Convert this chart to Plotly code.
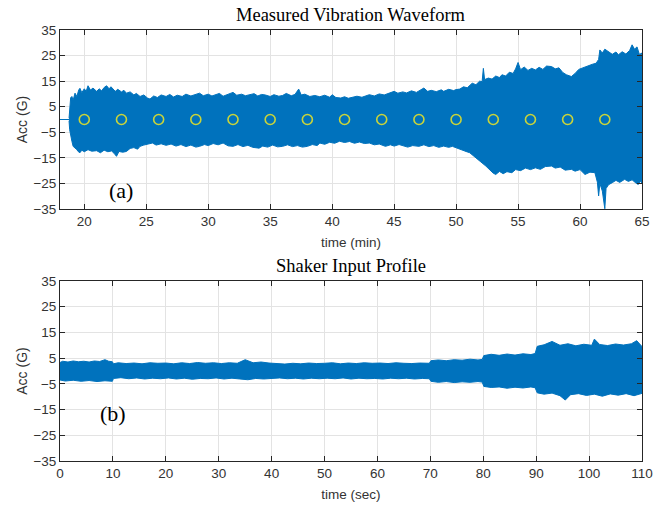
import plotly.graph_objects as go
from plotly.subplots import make_subplots

# ---------------- data ----------------
# (a) Measured vibration waveform: upper / lower envelope of the signal (G) vs time (min)
a_up_t = [18.77, 18.82, 18.9, 19.0, 19.1, 19.25, 19.4, 19.55, 19.65, 19.8, 20.0, 20.15, 20.3, 20.5, 20.7,
          21.0, 21.2, 21.4, 21.6, 21.8, 22.0, 22.15, 22.3, 22.5, 22.7, 23.0, 23.2, 23.4, 23.7, 24.0,
          24.2, 24.5, 24.8, 25.1, 25.3, 25.6, 25.9, 26.2, 26.6, 26.9, 27.2, 27.5, 27.9, 28.2, 28.6,
          29.0, 29.3, 29.6, 30.0, 30.3, 30.6, 30.9, 31.2, 31.6, 32.0, 32.3, 32.7, 33.0, 33.3, 33.7,
          34.0, 34.3, 34.6, 35.0, 35.3, 35.7, 36.0, 36.3, 36.7, 37.0, 37.3, 37.5, 37.8, 38.2, 38.6,
          39.0, 39.4, 39.8, 40.0, 40.3, 40.7, 41.0, 41.3, 41.6, 42.0, 42.4, 42.8, 43.0, 43.4, 43.8,
          44.2, 44.6, 45.0, 45.3, 45.7, 46.0, 46.4, 46.8, 47.1, 47.4, 47.7, 48.0, 48.4, 48.8, 49.0,
          49.4, 49.8, 50.0, 50.3, 50.6, 50.9, 51.3, 51.6, 51.9, 52.1, 52.2, 52.3, 52.6, 52.9, 53.2,
          53.5, 53.7, 54.0, 54.3, 54.6, 54.8, 55.0, 55.2, 55.5, 55.8, 56.1, 56.4, 56.7, 57.0, 57.3,
          57.7, 58.0, 58.3, 58.6, 58.9, 59.3, 59.6, 59.9, 60.2, 60.4, 60.7, 61.0, 61.3, 61.5, 61.6,
          61.8, 62.0, 62.3, 62.6, 62.9, 63.1, 63.4, 63.7, 64.0, 64.2, 64.4, 64.6, 64.8, 64.95, 65.0]
a_up_v = [0.5, 6.0, 8.5, 9.0, 7.5, 10.3, 9.0, 11.5, 12.2, 10.5, 12.0, 11.0, 13.2, 11.5, 12.3,
          11.0, 12.0, 11.2, 12.5, 13.2, 12.0, 12.8, 11.9, 11.0, 11.8, 10.8, 11.4, 10.3, 10.8, 9.6,
          10.2, 9.0, 9.6, 8.4, 8.0, 9.2, 8.6, 9.6, 9.0, 9.8, 8.8, 9.5, 9.0, 9.9, 9.2,
          10.0, 10.3, 9.3, 9.9, 9.2, 9.6, 10.2, 9.1, 9.8, 10.6, 9.5, 9.9, 9.3, 9.6, 10.1,
          9.2, 9.8, 9.6, 9.0, 9.7, 9.1, 9.4, 10.2, 9.3, 9.8, 11.9, 9.6, 9.9, 9.0, 9.4,
          8.9, 9.5, 8.7, 9.7, 8.6, 8.4, 8.9, 8.3, 8.6, 9.1, 8.7, 9.4, 9.7, 9.2, 10.0,
          9.6, 10.4, 11.0, 10.3, 10.8, 10.4, 11.2, 10.6, 11.5, 12.3, 11.0, 11.4, 10.9, 11.6, 11.0,
          11.8, 11.3, 11.7, 11.9, 12.8, 12.4, 14.2, 13.6, 15.0, 14.8, 20.0, 15.6, 16.2, 15.8, 17.0,
          16.4, 17.5, 17.0, 18.5, 18.0, 19.8, 22.3, 19.5, 20.5, 19.2, 20.0, 19.4, 20.4, 19.6, 20.9,
          20.7, 19.8, 20.2, 18.4, 17.5, 16.8, 18.0, 19.6, 20.2, 20.7, 21.0, 21.6, 22.0, 23.5, 27.2,
          26.0, 27.5, 26.6, 25.5, 26.4, 25.3, 26.5, 25.6, 27.0, 29.2, 27.5, 28.4, 25.3, 26.0, 25.0]

a_lo_t = [18.77, 18.82, 18.9, 19.0, 19.1, 19.25, 19.4, 19.5, 19.65, 19.8, 20.0, 20.3, 20.6, 21.0, 21.3,
          21.6, 21.9, 22.2, 22.4, 22.6, 22.8, 23.1, 23.4, 23.7, 24.0, 24.3, 24.5, 24.8, 25.1, 25.5,
          25.8, 26.2, 26.6, 27.0, 27.4, 27.8, 28.2, 28.6, 29.0, 29.3, 29.7, 30.0, 30.4, 30.8, 31.2,
          31.6, 32.0, 32.4, 32.8, 33.2, 33.6, 34.1, 34.4, 34.8, 35.2, 35.6, 36.0, 36.4, 36.8, 37.2,
          37.6, 38.0, 38.4, 38.8, 39.0, 39.4, 39.8, 40.2, 40.6, 41.0, 41.4, 41.8, 42.2, 42.6, 43.0,
          43.4, 43.8, 44.3, 44.7, 45.0, 45.4, 45.7, 46.1, 46.5, 47.0, 47.4, 47.8, 48.2, 48.6, 49.0,
          49.4, 49.7, 50.1, 50.4, 50.8, 51.1, 51.4, 51.7, 52.0, 52.4, 52.7, 53.0, 53.2, 53.5, 53.8,
          54.1, 54.5, 54.8, 55.2, 55.6, 56.0, 56.4, 56.8, 57.2, 57.7, 58.0, 58.4, 58.8, 59.3, 59.6,
          60.0, 60.4, 60.8, 61.2, 61.4, 61.5, 61.6, 61.8, 62.0, 62.1, 62.3, 62.6, 62.9, 63.2, 63.6,
          63.9, 64.2, 64.5, 64.7, 64.9, 65.0]
a_lo_v = [-0.5, -4.0, -6.5, -8.5, -10.5, -11.0, -11.8, -12.5, -13.0, -12.0, -12.6, -11.8, -12.4, -12.2, -13.0,
          -12.0, -12.6, -12.3, -13.2, -14.4, -12.5, -12.8, -12.5, -11.3, -11.0, -11.6, -10.5, -10.0, -9.6, -9.2,
          -10.0, -9.5, -10.1, -9.6, -10.4, -9.8, -10.6, -10.0, -10.8, -10.5, -9.8, -10.2, -9.4, -9.9, -9.2,
          -10.3, -10.5, -9.8, -10.6, -10.1, -10.9, -11.2, -10.4, -10.8, -10.0, -10.7, -10.5, -9.9, -10.6, -10.2,
          -10.8, -10.5, -9.8, -10.2, -9.2, -9.7, -8.9, -9.3, -8.5, -9.0, -8.6, -9.3, -8.8, -9.4, -9.2,
          -9.9, -9.6, -10.5, -9.9, -10.4, -9.8, -10.1, -10.8, -10.2, -10.5, -9.9, -10.6, -10.2, -10.9, -10.4,
          -10.9, -10.5, -11.2, -11.8, -12.5, -13.0, -14.2, -15.5, -16.6, -18.2, -19.5, -21.0, -21.5, -20.3, -21.2,
          -20.4, -20.8, -19.6, -20.0, -19.0, -19.6, -18.9, -19.5, -18.4, -18.2, -19.0, -18.6, -19.8, -19.5, -20.2,
          -19.6, -21.5, -20.6, -20.8, -24.5, -29.9, -25.0, -28.0, -34.9, -27.0, -25.5, -24.7, -23.8, -24.6, -23.4,
          -24.2, -23.6, -24.8, -25.4, -24.0, -25.0]

# flat signal before the waveform starts
a_pre_t = [18.0, 18.77]
a_pre_v = [0.0, 0.0]

# yellow circle markers
a_mark_t = [20, 23, 26, 29, 32, 35, 38, 41, 44, 47, 50, 53, 56, 59, 62]
a_mark_v = [0] * len(a_mark_t)

# (b) Shaker input profile: envelope (G) vs time (sec)
b_up_t = [0, 0.5, 1.5, 2.5, 3.5, 4.5, 5.5, 6.5, 7.5, 8.5, 9.2, 9.9, 10.1, 11, 12.5, 14, 15.5, 17, 18.5, 20,
          21.5, 23, 24.5, 26, 27.5, 29, 30.5, 32, 33.5, 35, 36.5, 38, 39.5, 41, 42.5, 44, 45.5, 47, 48.5, 50,
          51.5, 53, 54.5, 56, 57.5, 59, 60.5, 62, 63.5, 65, 66.5, 68, 69.8, 70.1, 71.5, 73, 74.5, 76, 77.5, 79,
          79.8, 80.1, 81.5, 83, 84.5, 86, 87.5, 89, 89.8, 90.2, 91.5, 93, 94.5, 96, 97.5, 99, 100.5, 101, 102,
          103.5, 105, 106.5, 108, 109, 110]
b_up_v = [3.3, 3.8, 3.5, 3.9, 3.6, 3.8, 3.5, 3.9, 3.7, 4.4, 3.8, 3.6, 2.8, 3.2, 2.9, 3.1, 2.8, 3.2, 3.0, 3.1,
          2.8, 3.2, 2.9, 3.3, 3.0, 3.2, 2.9, 3.2, 3.0, 4.4, 3.2, 3.5, 3.1, 2.9, 2.7, 3.0, 2.8, 3.1, 2.9, 3.0,
          3.2, 2.8, 3.1, 2.9, 3.2, 3.0, 3.1, 2.9, 3.2, 3.0, 2.9, 3.1, 3.0, 4.0, 4.3, 4.0, 4.4, 4.2, 4.6, 4.3,
          4.5, 6.0, 6.5, 6.1, 6.6, 6.2, 6.7, 6.4, 6.8, 9.6, 10.2, 11.5, 10.0, 10.6, 9.8, 10.4, 10.0, 12.4, 10.3,
          9.9, 10.5, 10.1, 10.6, 11.8, 9.5]

b_lo_t = [0, 1, 2.5, 4, 5.5, 7, 8.5, 9.9, 10.1, 11.5, 13, 14.5, 16, 17.5, 19, 20.5, 22, 23.5, 25, 26.5,
          28, 29.5, 31, 32.5, 34, 35.5, 37, 38.5, 40, 41.5, 43, 44.5, 46, 47.5, 49, 50.5, 52, 53.5, 55, 56.5,
          58, 59.5, 61, 62.5, 64, 65.5, 67, 68.5, 69.8, 70.1, 71.5, 73, 74.5, 76, 77.5, 79, 79.8, 80.1, 81.5, 83,
          84.5, 86, 87.5, 89, 89.8, 90.2, 91.5, 93, 94.5, 95.5, 96.5, 98, 99.5, 101, 102.5, 104, 105.5, 107, 108.5, 110]
b_lo_v = [-3.5, -3.9, -3.6, -4.0, -3.7, -4.1, -3.8, -4.0, -2.9, -2.6, -3.0, -2.7, -3.1, -2.8, -3.0, -2.7, -3.1, -2.8, -3.2, -2.9,
          -3.0, -2.7, -3.1, -2.8, -3.1, -3.4, -2.9, -3.1, -2.8, -2.7, -3.0, -2.8, -3.1, -2.8, -3.0, -2.8, -3.0, -2.7, -3.1, -2.8,
          -3.0, -2.9, -3.1, -2.8, -3.0, -2.8, -3.1, -2.9, -3.0, -4.0, -4.4, -4.1, -4.5, -4.2, -4.4, -4.1, -4.3, -6.0, -6.4, -6.2,
          -6.7, -6.3, -6.6, -6.2, -6.5, -8.5, -9.0, -8.6, -9.6, -11.3, -9.2, -8.8, -9.5, -9.0, -9.8, -8.9, -9.4, -8.8, -9.6, -8.7]

a_xticks = [20, 25, 30, 35, 40, 45, 50, 55, 60, 65]
b_xticks = [0, 10, 20, 30, 40, 50, 60, 70, 80, 90, 100, 110]
y_ticks = [-35, -25, -15, -5, 5, 15, 25, 35]

# ---------------- figure ----------------
BLUE = "#0072BD"
AXC = "#262626"
GRID = "#E3E3E3"
SANS = "Liberation Sans, Arial, sans-serif"
SERIF = "Liberation Serif, Times New Roman, serif"

fig = make_subplots(rows=2, cols=1, vertical_spacing=0.0)

fig.add_trace(go.Scatter(x=a_pre_t, y=a_pre_v, mode="lines",
                         line=dict(color=BLUE, width=1), hoverinfo="skip"), row=1, col=1)
fig.add_trace(go.Scatter(x=a_up_t + a_lo_t[::-1], y=a_up_v + a_lo_v[::-1], mode="lines",
                         fill="toself", fillcolor=BLUE,
                         line=dict(color=BLUE, width=1), hoverinfo="skip"), row=1, col=1)
fig.add_trace(go.Scatter(x=a_mark_t, y=a_mark_v, mode="markers",
                         marker=dict(symbol="circle-open", size=10, color="#C9D43A",
                                     line=dict(width=1.6, color="#C9D43A"))), row=1, col=1)
fig.add_trace(go.Scatter(x=b_up_t + b_lo_t[::-1], y=b_up_v + b_lo_v[::-1], mode="lines",
                         fill="toself", fillcolor=BLUE,
                         line=dict(color=BLUE, width=1), hoverinfo="skip"), row=2, col=1)

axis_common = dict(showline=True, linecolor=AXC, linewidth=1, mirror="ticks",
                   ticks="inside", ticklen=5, tickwidth=1, tickcolor=AXC,
                   showgrid=True, gridcolor=GRID, gridwidth=1, zeroline=False,
                   automargin=False,
                   tickfont=dict(family=SANS, size=13.5, color="#333333"))

fig.update_xaxes(**axis_common)
fig.update_yaxes(**axis_common)

fig.update_xaxes(range=[18.04, 65], tickvals=a_xticks, domain=[0, 1],
                 title=dict(text="time (min)", font=dict(family=SANS, size=13.5, color="#333333"), standoff=9),
                 row=1, col=1)
fig.update_xaxes(range=[0, 110], tickvals=b_xticks, domain=[0, 1],
                 title=dict(text="time (sec)", font=dict(family=SANS, size=13.5, color="#333333"), standoff=9),
                 row=2, col=1)
fig.update_yaxes(range=[-35, 35], tickvals=y_ticks, domain=[0.5847, 1],
                 title=dict(text="Acc (G)", font=dict(family=SANS, size=14, color="#333333"), standoff=2),
                 row=1, col=1)
fig.update_yaxes(range=[-35, 35], tickvals=y_ticks, domain=[0, 0.4176],
                 title=dict(text="Acc (G)", font=dict(family=SANS, size=14, color="#333333"), standoff=2),
                 row=2, col=1)

fig.add_annotation(text="Measured Vibration Waveform", x=0.5, y=1.0, xref="paper", yref="paper",
                   yanchor="bottom", yshift=3, showarrow=False,
                   font=dict(family=SERIF, size=18.5, color="black"))
fig.add_annotation(text="Shaker Input Profile", x=0.5, y=0.4176, xref="paper", yref="paper",
                   yanchor="bottom", yshift=3, showarrow=False,
                   font=dict(family=SERIF, size=18.5, color="black"))
fig.add_annotation(text="(a)", x=23.0, y=-27.6, xref="x", yref="y", showarrow=False,
                   font=dict(family=SERIF, size=22, color="black"))
fig.add_annotation(text="(b)", x=10.0, y=-16.5, xref="x2", yref="y2", showarrow=False,
                   font=dict(family=SERIF, size=22, color="black"))

fig.update_layout(width=656, height=508, margin=dict(l=60, r=14, t=30, b=47),
                  plot_bgcolor="white", paper_bgcolor="white", showlegend=False)

fig.write_html("out.html")
